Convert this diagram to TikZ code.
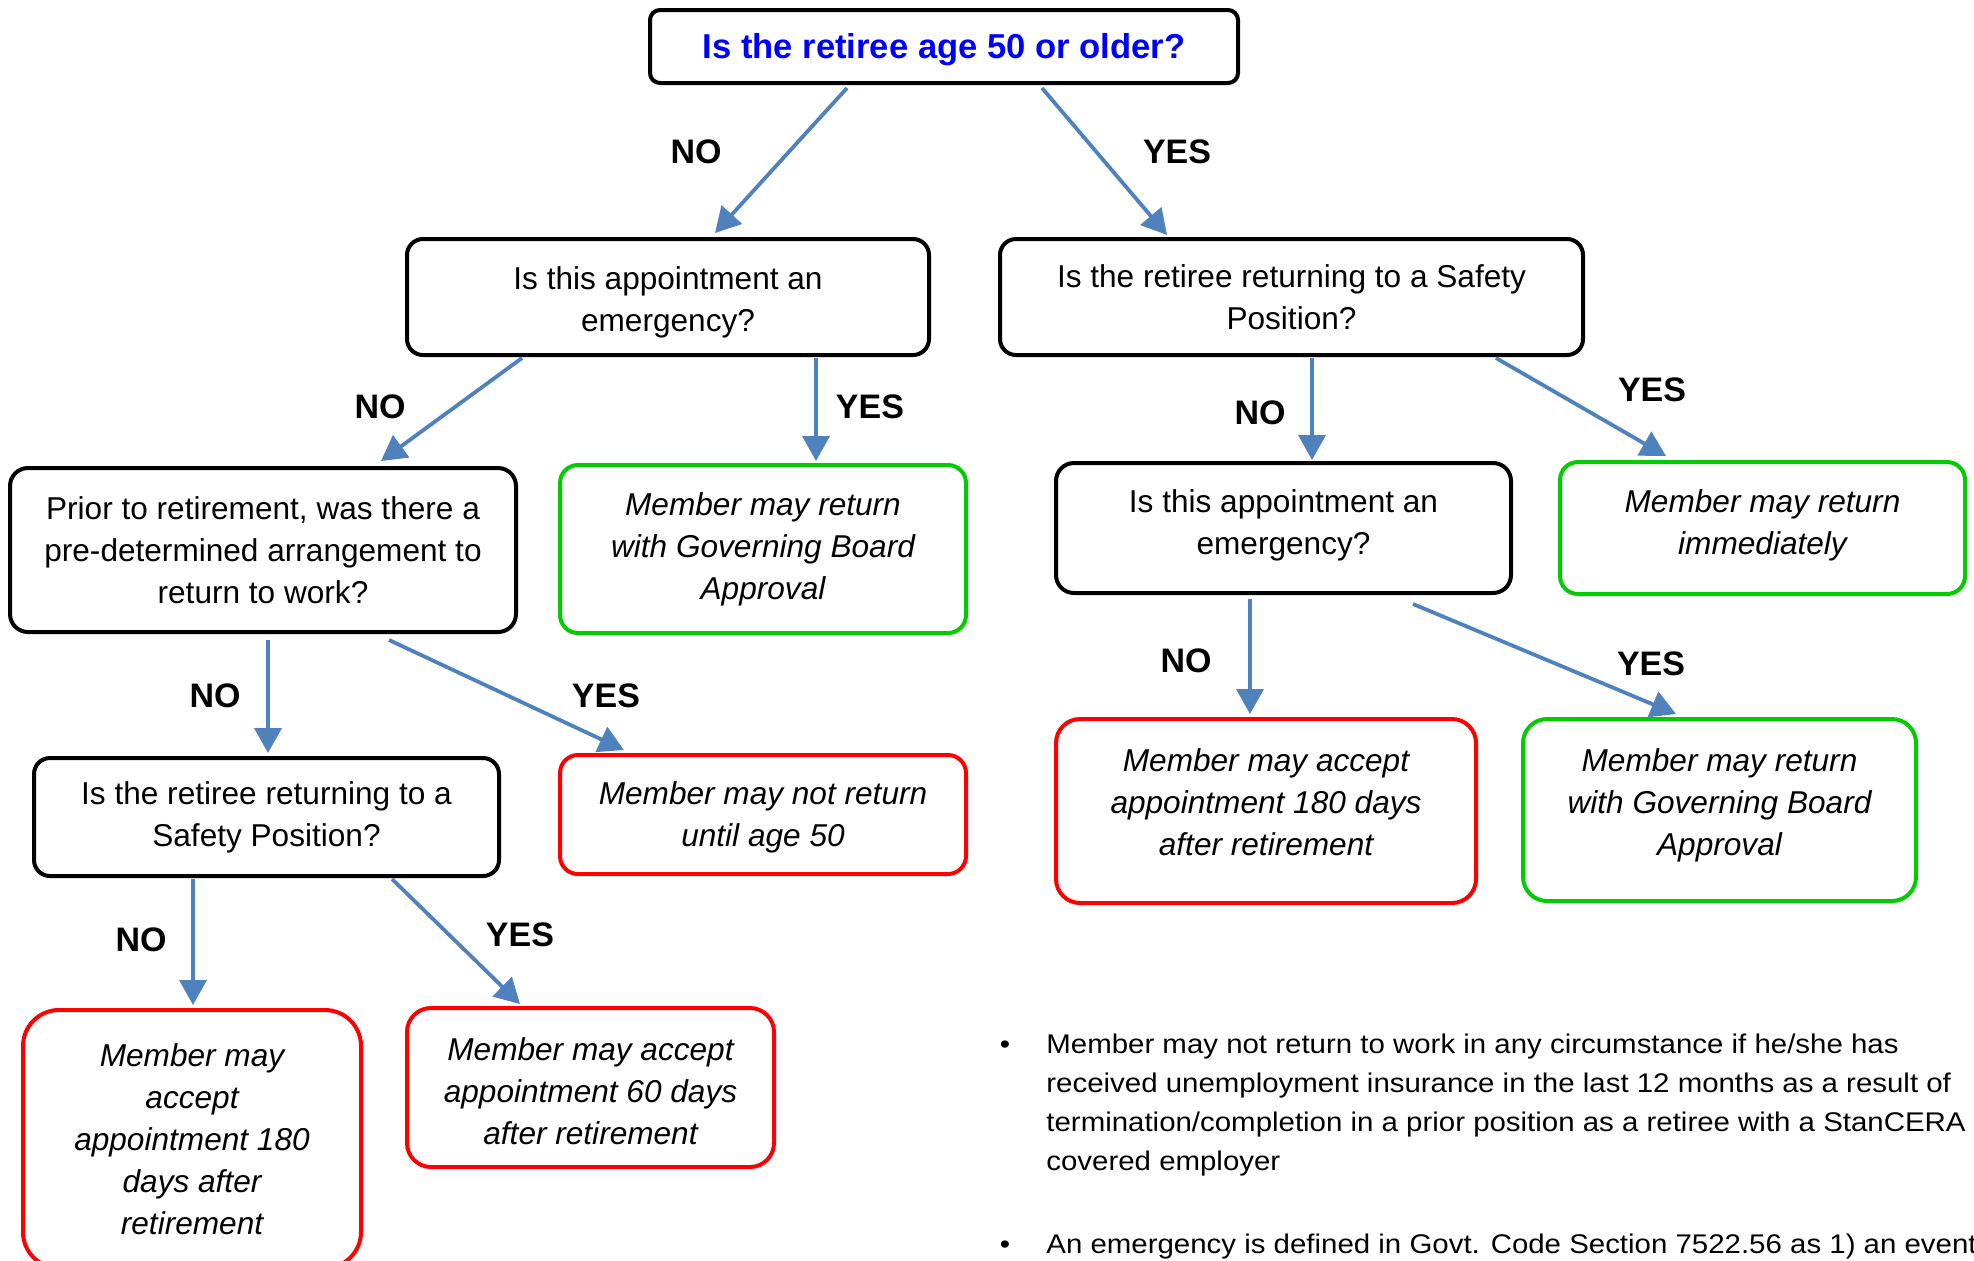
\documentclass[tikz,border=0pt]{standalone}
\usepackage{fontspec}
\setmainfont{Liberation Sans}
\newfontfamily\notefont[FakeStretch=1.09]{Liberation Sans}
\usetikzlibrary{arrows.meta,calc}
\definecolor{flowblue}{RGB}{79,129,189}
\definecolor{okgreen}{RGB}{0,204,0}
\definecolor{stopred}{RGB}{255,0,0}
\definecolor{titleblue}{RGB}{0,0,255}
\tikzset{
	box/.style={draw, line width=2pt, rounded corners=8pt, align=center, inner sep=0pt,
		font=\fontsize{15.8}{21}\selectfont},
	question/.style={box, draw=black},
	okbox/.style={box, draw=okgreen, font=\fontsize{15.8}{21}\selectfont\itshape},
	stopbox/.style={box, draw=stopred, font=\fontsize{15.8}{21}\selectfont\itshape},
	flow/.style={draw=flowblue, line width=1.9pt, -{Triangle[length=12.5pt,width=13.5pt]}},
	answer/.style={font=\fontsize{17}{20}\selectfont\bfseries, inner sep=0pt},
	note/.style={font=\notefont\fontsize{13.5}{19.5}\selectfont, inner sep=0pt}
}
\begin{document}
\begin{tikzpicture}[x=0.5pt, y=-0.5pt]
	\useasboundingbox (0,0) rectangle (1974,1260);
	% questions
	\node[question, rounded corners=5pt, minimum width=294pt, minimum height=36.5pt, text height=15.2pt,
		text=titleblue, font=\fontsize{17.3}{20}\selectfont\bfseries] (qage) at (944,46.5) {Is the retiree age 50 or older?};
	\node[question, minimum width=261pt, minimum height=58pt, text height=37.5pt] (qemerg) at (668,297) {Is this appointment an\\emergency?};
	\node[question, minimum width=291.5pt, minimum height=58pt] (qsafety) at (1291.5,297) {Is the retiree returning to a Safety\\Position?};
	\node[question, rounded corners=9pt, minimum width=253pt, minimum height=82pt] (qprior) at (263,550) {Prior to retirement, was there a\\pre-determined arrangement to\\return to work?};
	\node[question, rounded corners=9pt, minimum width=227.5pt, minimum height=65pt, text height=30pt] (qemergb) at (1283.5,528) {Is this appointment an\\emergency?};
	\node[question, minimum width=232.5pt, minimum height=59pt] (qsafetyb) at (266.5,817) {Is the retiree returning to a\\Safety Position?};
	% outcomes
	\node[okbox, rounded corners=9pt, minimum width=203pt, minimum height=84pt] (aboard) at (763,549) {Member may return\\with Governing Board\\Approval};
	\node[okbox, rounded corners=9pt, minimum width=202.5pt, minimum height=66pt, text height=29.3pt] (anow) at (1762.5,528) {Member may return\\immediately};
	\node[stopbox, rounded corners=9pt, minimum width=203pt, minimum height=59.5pt, text height=35.7pt] (anotyet) at (763,814.5) {Member may not return\\until age 50};
	\node[stopbox, rounded corners=12pt, minimum width=210pt, minimum height=92pt, text height=44.7pt] (await) at (1266,811) {Member may accept\\appointment 180 days\\after retirement};
	\node[okbox, rounded corners=12pt, minimum width=196.5pt, minimum height=91pt, text height=48.5pt] (aboardb) at (1719.5,810) {Member may return\\with Governing Board\\Approval};
	\node[stopbox, rounded corners=18pt, minimum width=169pt, minimum height=129pt] (awaitb) at (192,1139) {Member may\\accept\\appointment 180\\days after\\retirement};
	\node[stopbox, rounded corners=12pt, minimum width=183.5pt, minimum height=79.5pt, text height=56.7pt] (asixty) at (590.5,1087.5) {Member may accept\\appointment 60 days\\after retirement};
	% arrows
	\draw[flow] ($(qage.south)+(-97,3)$) -- ($(qemerg.north)+(47,-4)$);
	\draw[flow] ($(qage.south)+(98,3)$) -- ($(qsafety.north)+(-124.5,-2)$);
	\draw[flow] ($(qemerg.south)+(-146,1)$) -- ($(qprior.north)+(118,-5)$);
	\draw[flow] ($(qemerg.south)+(148,1)$) -- ($(aboard.north)+(53,-2)$);
	\draw[flow] ($(qsafety.south)+(20.5,1)$) -- ($(qemergb.north)+(28.5,-1)$);
	\draw[flow] ($(qsafety.south)+(204.5,1)$) -- ($(anow.north)+(-96.5,-4)$);
	\draw[flow] ($(qprior.south)+(5,6)$) -- ($(qsafetyb.north)+(1.5,-3)$);
	\draw[flow] ($(qprior.south)+(126,6)$) -- ($(anotyet.north)+(-139,-3)$);
	\draw[flow] ($(qemergb.south)+(-33.5,4)$) -- ($(await.north)+(-16,-3)$);
	\draw[flow] ($(qemergb.south)+(129.5,9)$) -- ($(aboardb.north)+(-43.5,-3)$);
	\draw[flow] ($(qsafetyb.south)+(-73.5,1)$) -- ($(awaitb.north)+(1,-3)$);
	\draw[flow] ($(qsafetyb.south)+(125.5,1)$) -- ($(asixty.north)+(-70.5,-2)$);
	% labels
	\node[answer] (lnoa) at (696,152) {NO};
	\node[answer] (lyesa) at (1177,152) {YES};
	\node[answer] (lnob) at (380,407) {NO};
	\node[answer] (lyesb) at (870,407) {YES};
	\node[answer] (lnoc) at (1260,413) {NO};
	\node[answer] (lyesc) at (1652,390) {YES};
	\node[answer] (lnod) at (215,696) {NO};
	\node[answer] (lyesd) at (606,696) {YES};
	\node[answer] (lnoe) at (1186,661) {NO};
	\node[answer] (lyese) at (1651,664) {YES};
	\node[answer] (lnof) at (141,940) {NO};
	\node[answer] (lyesf) at (520,935) {YES};
	% notes
	\node[note, anchor=base] (dotone) at (1005,1053) {•};
	\node[note, anchor=base west] (noteonea) at (1046,1053) {Member may not return to work in any circumstance if he/she has};
	\node[note, anchor=base west] (noteoneb) at (1046,1092) {received unemployment insurance in the last 12 months as a result of};
	\node[note, anchor=base west] (noteonec) at (1046,1131) {termination/completion in a prior position as a retiree with a StanCERA};
	\node[note, anchor=base west] (noteoned) at (1046,1170) {covered employer};
	\node[note, anchor=base] (dottwo) at (1005,1253) {•};
	\node[note, anchor=base west] (notetwo) at (1046,1253) {An emergency is defined in Govt. Code Section 7522.56 as 1) an event};
\end{tikzpicture}
\end{document}
